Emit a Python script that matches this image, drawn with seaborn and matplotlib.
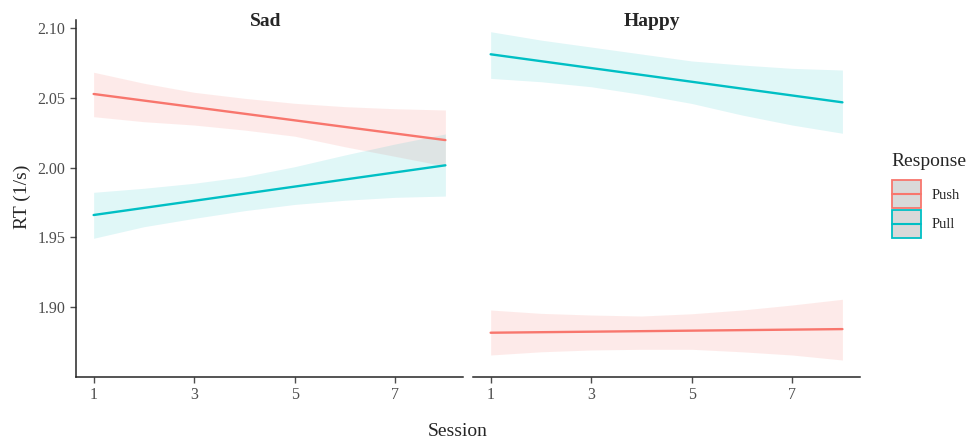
import matplotlib
matplotlib.use('Agg')
import numpy as np
import pandas as pd
import seaborn as sns
import matplotlib.pyplot as plt
from matplotlib.patches import Rectangle
from matplotlib.lines import Line2D

EMOTIONS = ['Sad', 'Happy']
RESPONSES = ['Push', 'Pull']
COLORS = {'Push': '#F8766D', 'Pull': '#00BFC4'}
BAND_ALPHA = {'Push': 0.15, 'Pull': 0.12}

SESSIONS = [1, 2, 3, 4, 5, 6, 7, 8]
FIT_SESSIONS = [1, 8]

# fitted line (ends) per panel / response
SAD_PUSH_FIT = [2.0528, 2.0197]
SAD_PULL_FIT = [1.9659, 2.0016]
HAPPY_PUSH_FIT = [1.8814, 1.8840]
HAPPY_PULL_FIT = [2.0813, 2.0468]

# confidence band read at each session
SAD_PUSH_LOWER = [2.0365, 2.0329, 2.0305, 2.0269, 2.0225, 2.0149, 2.0080, 2.0010]
SAD_PUSH_UPPER = [2.0684, 2.0605, 2.0540, 2.0497, 2.0461, 2.0437, 2.0422, 2.0413]
SAD_PULL_LOWER = [1.9492, 1.9575, 1.9635, 1.9690, 1.9735, 1.9765, 1.9786, 1.9795]
SAD_PULL_UPPER = [1.9822, 1.9851, 1.9887, 1.9935, 2.0006, 2.0090, 2.0169, 2.0241]
HAPPY_PUSH_LOWER = [1.8654, 1.8677, 1.8690, 1.8695, 1.8695, 1.8677, 1.8654, 1.8618]
HAPPY_PUSH_UPPER = [1.8977, 1.8953, 1.8941, 1.8934, 1.8950, 1.8977, 1.9013, 1.9054]
HAPPY_PULL_LOWER = [2.0640, 2.0616, 2.0580, 2.0525, 2.0460, 2.0377, 2.0305, 2.0246]
HAPPY_PULL_UPPER = [2.0975, 2.0915, 2.0865, 2.0815, 2.0765, 2.0736, 2.0712, 2.0700]

FITS = {('Sad', 'Push'): SAD_PUSH_FIT, ('Sad', 'Pull'): SAD_PULL_FIT,
        ('Happy', 'Push'): HAPPY_PUSH_FIT, ('Happy', 'Pull'): HAPPY_PULL_FIT}
BANDS = {('Sad', 'Push'): (SAD_PUSH_LOWER, SAD_PUSH_UPPER),
         ('Sad', 'Pull'): (SAD_PULL_LOWER, SAD_PULL_UPPER),
         ('Happy', 'Push'): (HAPPY_PUSH_LOWER, HAPPY_PUSH_UPPER),
         ('Happy', 'Pull'): (HAPPY_PULL_LOWER, HAPPY_PULL_UPPER)}

fit_rows = []
band_rows = []
for (emo, resp), fit in FITS.items():
    for s, v in zip(FIT_SESSIONS, fit):
        fit_rows.append({'emotion': emo, 'response': resp, 'session': s, 'rt': v})
    lo, hi = BANDS[(emo, resp)]
    for s, a, b in zip(SESSIONS, lo, hi):
        band_rows.append({'emotion': emo, 'response': resp, 'session': s, 'lower': a, 'upper': b})
df_fit = pd.DataFrame(fit_rows)
df_band = pd.DataFrame(band_rows)


class SmoothKey:
    # ggplot-like key: grey box with coloured edge and a centred line
    def legend_artist(self, legend, orig_handle, fontsize, handlebox):
        x0, y0 = -handlebox.xdescent, -handlebox.ydescent
        w, h = handlebox.width, handlebox.height
        c = orig_handle.get_color()
        tr = handlebox.get_transform()
        rect = Rectangle((x0, y0), w, h, facecolor='#d9d9d9', edgecolor=c,
                         linewidth=1.3, transform=tr)
        line = Line2D([x0, x0 + w], [y0 + h / 2, y0 + h / 2], color=c,
                      linewidth=1.5, transform=tr)
        handlebox.add_artist(rect)
        handlebox.add_artist(line)
        return rect


sns.set_style('ticks')
plt.rcParams['font.family'] = ['Liberation Serif', 'DejaVu Serif']

fig, axes = plt.subplots(1, 2, figsize=(9.71, 4.41), dpi=100, sharey=True)
fig.subplots_adjust(left=0.0783, right=0.8857, bottom=0.1451, top=0.9546, wspace=0.026)

title_x = {'Sad': 0.491, 'Happy': 0.462}
for ax, emo in zip(axes, EMOTIONS):
    for resp in RESPONSES:
        b = df_band[(df_band.emotion == emo) & (df_band.response == resp)]
        ax.fill_between(b['session'], b['lower'], b['upper'], color=COLORS[resp],
                        alpha=BAND_ALPHA[resp], linewidth=0)
    sns.lineplot(data=df_fit[df_fit.emotion == emo], x='session', y='rt', hue='response',
                 hue_order=RESPONSES, palette=COLORS, linewidth=1.7, legend=False, ax=ax)
    ax.set_xlim(0.65, 8.35)
    ax.set_ylim(1.8496, 2.1059)
    ax.set_xticks([1, 3, 5, 7])
    ax.set_xlabel('')
    ax.set_ylabel('')
    ax.set_title(emo, x=title_x[emo], y=0.995, va='center', pad=0,
                 fontsize=14, fontweight='bold')
    sns.despine(ax=ax)
    for sp in ax.spines.values():
        sp.set_linewidth(1.1)
    ax.tick_params(colors='#4d4d4d', labelcolor='#4d4d4d', labelsize=11.5, length=4, width=1)

axes[0].set_yticks([1.90, 1.95, 2.00, 2.05, 2.10])
axes[0].yaxis.set_major_formatter(plt.FormatStrFormatter('%.2f'))
axes[1].spines['left'].set_visible(False)
axes[1].tick_params(axis='y', left=False, labelleft=False)

fig.text(458 / 971, 1 - 431 / 441, 'Session', ha='center', va='center', fontsize=14)
fig.text(22 / 971, 1 - 197 / 441, 'RT (1/s)', ha='center', va='center', rotation=90, fontsize=14)

# legend: title as its own text, keys below it
fig.text(891 / 971, 1 - 162 / 441, 'Response', ha='left', va='center', fontsize=14)
handles = [Line2D([], [], color=COLORS[r]) for r in RESPONSES]
fig.legend(handles, RESPONSES, handler_map={Line2D: SmoothKey()},
           loc='upper left', bbox_to_anchor=(892 / 971, 1 - 180 / 441),
           frameon=False, fontsize=10.5, handlelength=2.0,
           handleheight=2.6, labelspacing=0.1, handletextpad=0.7,
           borderaxespad=0, borderpad=0)

fig.savefig('out.png', dpi=100)
